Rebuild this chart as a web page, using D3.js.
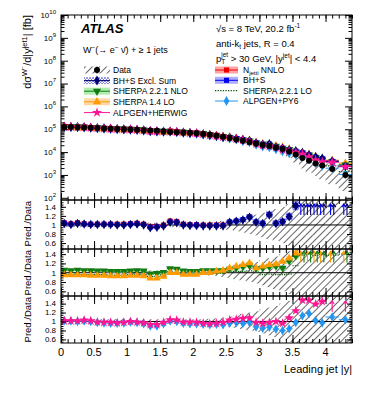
<!DOCTYPE html>
<html>
<head>
<meta charset="utf-8">
<script src="https://cdn.jsdelivr.net/npm/d3@7"></script>
<style>
body { margin: 0; background: #fff; }
text { font-family: "Liberation Sans", Arial, Helvetica, sans-serif; }
</style>
</head>
<body>
<div class="chart"></div>
<script>
// bin edges in leading jet |y|
const edges = [0, 0.1, 0.2, 0.3, 0.4, 0.5, 0.6, 0.7, 0.8, 0.9, 1.0, 1.1, 1.2, 1.3, 1.4, 1.5, 1.6, 1.7, 1.8, 1.9,
  2.0, 2.1, 2.2, 2.3, 2.4, 2.5, 2.6, 2.7, 2.8, 2.9, 3.0, 3.1, 3.2, 3.3, 3.4, 3.5, 3.6, 3.7, 3.8, 3.9, 4.0, 4.2, 4.4];

// measured cross section [fb] and its relative total uncertainty
const dataXs = [1.26e5, 1.25e5, 1.22e5, 1.20e5, 1.16e5, 1.13e5, 1.09e5, 1.06e5, 1.03e5, 1.00e5,
  9.7e4, 9.4e4, 9.06e4, 8.9e4, 8.6e4, 8.1e4, 7.6e4, 7.3e4, 7.26e4, 6.97e4,
  6.7e4, 6.25e4, 5.77e4, 5.22e4, 4.68e4, 4.14e4, 3.6e4, 3.13e4, 2.72e4, 2.39e4,
  2.07e4, 1.86e4, 1.6e4, 1.35e4, 1.05e4, 7.8e3, 5.5e3, 4.2e3, 3.2e3, 2.6e3, 1.8e3, 1.0e3];
const dataUnc = [0.05, 0.05, 0.05, 0.05, 0.05, 0.05, 0.05, 0.05, 0.05, 0.05,
  0.05, 0.05, 0.05, 0.05, 0.05, 0.05, 0.05, 0.05, 0.05, 0.05,
  0.05, 0.05, 0.06, 0.07, 0.09, 0.11, 0.14, 0.17, 0.2, 0.23,
  0.27, 0.31, 0.35, 0.4, 0.46, 0.55, 0.65, 0.7, 0.72, 0.75, 0.78, 0.8];

// prediction / data ratios
const nnloRatio = [1.05, 1.03, 1.05, 1.03, 1.02, 1.02, 1.02, 1.02, 1.02, 1.02,
  1.03, 1.04, 1.02, 0.97, 0.97, 1.0, 1.09, 1.08, 1.02, 1.01, 1.01, 1.0, 1.0, 1.0, 1.0];
const nnloUnc = [0.03, 0.03, 0.03, 0.03, 0.03, 0.03, 0.03, 0.03, 0.03, 0.03,
  0.03, 0.03, 0.03, 0.03, 0.03, 0.03, 0.03, 0.03, 0.03, 0.03, 0.03, 0.03, 0.03, 0.03, 0.03];
const bhsRatio = [1.04, 1.015, 1.04, 1.02, 1.015, 1.015, 1.015, 1.015, 1.01, 1.01,
  1.02, 1.03, 1.01, 0.95, 0.96, 0.985, 1.07, 1.06, 1.01, 1.0,
  1.0, 0.99, 0.99, 0.99, 0.99, 1.07, 1.09, 1.12, 1.18, 1.07,
  1.04, 1.23, 1.04, 1.08, 1.19, 1.43, 1.7, 1.8, 1.9, 2.0, 2.2, 2.4];
const bhsUnc = [0.03, 0.03, 0.03, 0.03, 0.03, 0.03, 0.03, 0.03, 0.03, 0.03,
  0.03, 0.03, 0.03, 0.03, 0.03, 0.03, 0.03, 0.03, 0.03, 0.03,
  0.03, 0.03, 0.03, 0.03, 0.03, 0.04, 0.04, 0.05, 0.05, 0.05,
  0.05, 0.06, 0.06, 0.06, 0.07, 0.07, 0.08, 0.08, 0.08, 0.09, 0.1, 0.1];
const bhsExclRatio = [1.03, 1.01, 1.03, 1.02, 1.01, 1.01, 1.01, 1.01, 1.0, 1.0,
  1.01, 1.02, 1.0, 0.94, 0.95, 0.98, 1.06, 1.05, 1.0, 0.99,
  0.99, 0.98, 0.98, 0.98, 0.98, 1.06, 1.08, 1.11, 1.17, 1.06,
  1.03, 1.22, 1.03, 1.07, 1.18, 1.42, 1.7, 1.8, 1.9, 2.0, 2.2, 2.4];
const nloRatio = [1.06, 1.05, 1.06, 1.05, 1.05, 1.04, 1.04, 1.03, 1.03, 1.03,
  1.04, 1.05, 1.04, 0.98, 0.99, 1.01, 1.09, 1.08, 1.04, 1.03,
  1.03, 1.05, 1.05, 1.05, 1.05, 1.08, 1.1, 1.13, 1.15, 1.09,
  1.1, 1.13, 1.14, 1.1, 1.25, 1.36, 1.7, 1.8, 1.85, 1.9, 2.2, 2.8];
const nloUnc = [0.03, 0.03, 0.03, 0.03, 0.03, 0.03, 0.03, 0.03, 0.03, 0.03,
  0.03, 0.03, 0.03, 0.03, 0.03, 0.03, 0.03, 0.03, 0.03, 0.03,
  0.03, 0.03, 0.03, 0.03, 0.03, 0.035, 0.035, 0.04, 0.04, 0.04,
  0.04, 0.045, 0.045, 0.05, 0.05, 0.05, 0.06, 0.06, 0.06, 0.06, 0.07, 0.07];
const lo14Ratio = [0.95, 0.95, 0.95, 0.95, 0.94, 0.94, 0.94, 0.93, 0.93, 0.93,
  0.94, 0.94, 0.93, 0.88, 0.88, 0.92, 1.0, 1.0, 0.96, 0.96,
  0.96, 1.0, 1.0, 1.03, 1.05, 1.1, 1.14, 1.17, 1.21, 1.1,
  1.14, 1.17, 1.19, 1.24, 1.31, 1.42, 1.76, 1.95, 2.0, 2.05, 2.45, 3.3];
const lo14Unc = [0.02, 0.02, 0.02, 0.02, 0.02, 0.02, 0.02, 0.02, 0.02, 0.02,
  0.02, 0.02, 0.02, 0.02, 0.02, 0.02, 0.02, 0.02, 0.02, 0.02,
  0.02, 0.02, 0.02, 0.02, 0.02, 0.025, 0.025, 0.03, 0.03, 0.03,
  0.03, 0.03, 0.035, 0.035, 0.04, 0.04, 0.05, 0.05, 0.05, 0.05, 0.06, 0.06];
const sherpaLoRatio = [0.97, 0.96, 0.97, 0.96, 0.96, 0.96, 0.96, 0.95, 0.95, 0.95,
  0.96, 0.97, 0.96, 0.92, 0.92, 0.95, 1.02, 1.01, 0.97, 0.97,
  0.97, 0.99, 0.99, 0.99, 0.99, 1.02, 1.03, 1.03, 1.04, 1.02,
  0.96, 0.97, 0.96, 0.96, 0.97, 1.15, 1.38, 1.4, 1.37, 1.39, 1.38, 1.4];
const alpHerRatio = [1.015, 1.015, 1.015, 1.03, 1.015, 0.99, 0.98, 0.98, 0.97, 0.98,
  1.0, 0.99, 0.97, 0.93, 0.93, 0.98, 1.04, 1.03, 0.985, 0.985,
  0.98, 0.96, 0.95, 0.96, 0.98, 1.03, 1.05, 1.07, 1.08, 0.98,
  0.96, 0.98, 1.0, 0.96, 1.08, 1.24, 1.48, 1.48, 1.39, 1.45, 2.0, 2.3];
const alpPyRatio = [1.02, 1.01, 1.0, 1.01, 1.0, 0.98, 0.97, 0.96, 0.96, 0.97,
  0.99, 0.98, 0.95, 0.9, 0.9, 0.95, 1.01, 1.0, 0.96, 0.95,
  0.95, 0.94, 0.93, 0.94, 0.93, 0.96, 0.98, 0.96, 0.98, 0.88,
  0.85, 0.87, 0.83, 0.8, 0.84, 0.98, 1.13, 1.18, 1.02, 0.97, 1.1, 1.04];

const xTickLabels = ['0', '0.5', '1', '1.5', '2', '2.5', '3', '3.5', '4'];
const ratioTickValues = [0.6, 0.8, 1, 1.2, 1.4];

const L = 61, R = 352;

const svg = d3.select('.chart').append('svg')
  .attr('width', 374)
  .attr('height', 396);
svg.append('rect').attr('width', 374).attr('height', 396).attr('fill', '#fff');

const defs = svg.append('defs');
const hatch = defs.append('pattern')
  .attr('id', 'hatch').attr('patternUnits', 'userSpaceOnUse')
  .attr('width', 5).attr('height', 5)
  .attr('patternTransform', 'rotate(45)');
hatch.append('line').attr('x1', 2.5).attr('x2', 2.5).attr('y1', 0).attr('y2', 5)
  .attr('stroke', '#555').attr('stroke-width', 0.9);
const xhatch = defs.append('pattern')
  .attr('id', 'xhatch').attr('patternUnits', 'userSpaceOnUse')
  .attr('width', 3).attr('height', 3);
xhatch.append('path').attr('d', 'M0,0L3,3M3,0L0,3')
  .attr('stroke', '#4040d0').attr('stroke-width', 0.7);

const x = d3.scaleLinear().domain([0, 4.4]).range([L, R]);
const yMain = d3.scaleLog().domain([1e2, 1e10]).range([197.8, 15]);

const panels = [
  {top: 200, bottom: 249, dom: [0.47, 1.55]},
  {top: 249, bottom: 296, dom: [0.5, 1.51]},
  {top: 296, bottom: 343, dom: [0.52, 1.57]}
];
panels.forEach(p => {
  p.y = d3.scaleLinear().domain(p.dom).range([p.bottom, p.top]);
});

const bins = dataXs.map((v, i) => ({i, lo: edges[i], hi: edges[i + 1], c: (edges[i] + edges[i + 1]) / 2, v}));

const series = {
  nnlo: {vals: nnloRatio, unc: nnloUnc, color: '#ee0000', band: '#ff8c8c', sym: d3.symbolSquare, size: 20},
  bhs: {vals: bhsRatio, unc: bhsUnc, color: '#0000ee', band: '#9a9aff', sym: d3.symbolSquare, size: 20},
  bhsExcl: {vals: bhsExclRatio, unc: null, color: '#00006e', band: 'url(#xhatch)', sym: d3.symbolDiamond, size: 22},
  nlo: {vals: nloRatio, unc: nloUnc, color: '#127a12', band: '#9be89b', sym: d3.symbolTriangle, size: 22, rot: 180},
  lo14: {vals: lo14Ratio, unc: lo14Unc, color: '#ff9a00', band: '#ffd08c', sym: d3.symbolTriangle, size: 22},
  alpHer: {vals: alpHerRatio, unc: null, color: '#ff1493', sym: d3.symbolStar, size: 24},
  alpPy: {vals: alpPyRatio, unc: null, color: '#2196f3', sym: d3.symbolDiamond, size: 22}
};

function clip(id, top, bottom) {
  defs.append('clipPath').attr('id', id)
    .append('rect').attr('x', L).attr('y', top).attr('width', R - L).attr('height', bottom - top);
  return svg.append('g').attr('clip-path', `url(#${id})`);
}

function marker(g, s, px, py, scale) {
  g.append('path')
    .attr('d', d3.symbol(s.sym, s.size * scale)())
    .attr('transform', `translate(${px},${py})` + (s.rot ? ` rotate(${s.rot})` : ''))
    .attr('fill', s.color);
}

function arrow(g, px, y0, y1, color) {
  g.append('line').attr('x1', px).attr('x2', px).attr('y1', y0).attr('y2', y1)
    .attr('stroke', color).attr('stroke-width', 1.1);
  g.append('path').attr('d', `M${px - 2},${y1 + 3}L${px},${y1}L${px + 2},${y1 + 3}`)
    .attr('fill', 'none').attr('stroke', color).attr('stroke-width', 1.1);
}

// ---------- main panel ----------
const gMain = clip('clipMain', 15, 200);

gMain.selectAll('.dband').data(bins).enter().append('rect')
  .attr('x', d => x(d.lo)).attr('width', d => x(d.hi) - x(d.lo))
  .attr('y', d => yMain(d.v * (1 + dataUnc[d.i])))
  .attr('height', d => yMain(d.v * (1 - dataUnc[d.i])) - yMain(d.v * (1 + dataUnc[d.i])))
  .attr('fill', 'url(#hatch)');

['lo14', 'nlo', 'bhsExcl', 'bhs', 'nnlo'].forEach(k => {
  const s = series[k];
  bins.filter(d => s.vals[d.i] != null).forEach(d => {
    const u = s.unc ? s.unc[d.i] : 0.04;
    const p = d.v * s.vals[d.i];
    gMain.append('rect')
      .attr('x', x(d.lo)).attr('width', x(d.hi) - x(d.lo))
      .attr('y', yMain(p * (1 + u))).attr('height', yMain(p * (1 - u)) - yMain(p * (1 + u)))
      .attr('fill', s.band).attr('opacity', 0.7);
  });
});

bins.forEach(d => {
  gMain.append('line')
    .attr('x1', x(d.lo)).attr('x2', x(d.hi))
    .attr('y1', yMain(d.v * sherpaLoRatio[d.i])).attr('y2', yMain(d.v * sherpaLoRatio[d.i]))
    .attr('stroke', '#0b5a0b').attr('stroke-width', 1.2).attr('stroke-dasharray', '1.2,1.2');
});

['alpPy', 'lo14', 'nlo', 'bhs', 'bhsExcl', 'nnlo', 'alpHer'].forEach(k => {
  const s = series[k];
  bins.filter(d => s.vals[d.i] != null).forEach(d => {
    const py = yMain(d.v * s.vals[d.i]);
    gMain.append('line').attr('x1', x(d.lo)).attr('x2', x(d.hi)).attr('y1', py).attr('y2', py)
      .attr('stroke', s.color).attr('stroke-width', 1);
    marker(gMain, s, x(d.c), py, 1.3);
  });
});

bins.forEach(d => {
  gMain.append('circle').attr('cx', x(d.c)).attr('cy', yMain(d.v)).attr('r', 3).attr('fill', '#000');
});

// ---------- ratio panels ----------
const ratioContent = [
  {keys: ['nnlo', 'bhs', 'bhsExcl'], arrows: ['bhs', 'bhsExcl']},
  {keys: ['nlo', 'lo14'], arrows: ['lo14', 'nlo'], dotted: true},
  {keys: ['alpPy', 'alpHer'], arrows: ['alpHer']}
];

panels.forEach((p, pi) => {
  const g = clip('clipR' + pi, p.top, p.bottom);
  const y = p.y;
  g.selectAll('.rband').data(bins).enter().append('rect')
    .attr('x', d => x(d.lo)).attr('width', d => x(d.hi) - x(d.lo))
    .attr('y', d => y(1 + dataUnc[d.i]))
    .attr('height', d => y(1 - dataUnc[d.i]) - y(1 + dataUnc[d.i]))
    .attr('fill', 'url(#hatch)');
  g.append('line').attr('x1', L).attr('x2', R).attr('y1', y(1)).attr('y2', y(1))
    .attr('stroke', '#000').attr('stroke-width', 1);

  const rc = ratioContent[pi];
  rc.keys.forEach(k => {
    const s = series[k];
    bins.filter(d => s.vals[d.i] != null).forEach(d => {
      const u = s.unc ? s.unc[d.i] : (k === 'bhsExcl' ? bhsUnc[d.i] : 0);
      if (u > 0) {
        g.append('rect')
          .attr('x', x(d.lo)).attr('width', x(d.hi) - x(d.lo))
          .attr('y', y(s.vals[d.i] * (1 + u)))
          .attr('height', y(s.vals[d.i] * (1 - u)) - y(s.vals[d.i] * (1 + u)))
          .attr('fill', s.band).attr('opacity', 0.7);
      }
    });
  });
  if (rc.dotted) {
    bins.forEach(d => {
      g.append('line').attr('x1', x(d.lo)).attr('x2', x(d.hi))
        .attr('y1', y(sherpaLoRatio[d.i])).attr('y2', y(sherpaLoRatio[d.i]))
        .attr('stroke', '#0b5a0b').attr('stroke-width', 1.2).attr('stroke-dasharray', '1.2,1.2');
    });
  }
  rc.keys.forEach(k => {
    const s = series[k];
    bins.filter(d => s.vals[d.i] != null && s.vals[d.i] < p.dom[1]).forEach(d => {
      const py = y(s.vals[d.i]);
      g.append('line').attr('x1', x(d.lo)).attr('x2', x(d.hi)).attr('y1', py).attr('y2', py)
        .attr('stroke', s.color).attr('stroke-width', 1);
      marker(g, s, x(d.c), py, 1.2);
    });
  });
  rc.arrows.forEach((k, ai) => {
    const s = series[k];
    const off = rc.arrows.length > 1 ? (ai === 0 ? -1.6 : 1.6) : 0;
    bins.filter(d => s.vals[d.i] >= p.dom[1]).forEach(d => {
      arrow(svg, x(d.c) + off, y(1.22), y(1.46), s.color);
    });
  });
});

// ---------- frames and axes ----------
const frames = [{top: 15, bottom: 200}].concat(panels);
frames.forEach(f => {
  svg.append('rect').attr('x', L).attr('y', f.top).attr('width', R - L).attr('height', f.bottom - f.top)
    .attr('fill', 'none').attr('stroke', '#000').attr('stroke-width', 1);
});

const xMinor = d3.range(0, 4.41, 0.1);
const xMajor = d3.range(0, 4.41, 0.5);

function tidy(g) {
  g.select('.domain').remove();
  g.selectAll('line').attr('stroke', '#000');
}

frames.forEach((f, fi) => {
  const minLen = fi === 0 ? 3.5 : 4, majLen = fi === 0 ? 7 : 8;
  [[xMinor, minLen], [xMajor, majLen]].forEach(([vals, len]) => {
    svg.append('g').attr('transform', `translate(0,${f.top})`)
      .call(d3.axisTop(x).tickValues(vals).tickSize(-len).tickFormat('')).call(tidy);
    svg.append('g').attr('transform', `translate(0,${f.bottom})`)
      .call(d3.axisBottom(x).tickValues(vals).tickSize(-len).tickFormat('')).call(tidy);
  });
});

// x labels under the last panel
svg.append('g').selectAll('text').data(xMajor.slice(0, 9)).enter().append('text')
  .attr('x', d => x(d)).attr('y', 356).attr('text-anchor', 'middle')
  .attr('font-size', 11).text((d, i) => xTickLabels[i]);

svg.append('text').attr('x', R).attr('y', 373).attr('text-anchor', 'end')
  .attr('font-size', 11).text('Leading jet |y|');

// main y axis
const decades = [1e2, 1e3, 1e4, 1e5, 1e6, 1e7, 1e8, 1e9, 1e10];
const yMinor = yMain.ticks().filter(v => !decades.includes(v));
[[decades, 7], [yMinor, 3.5]].forEach(([vals, len]) => {
  svg.append('g').attr('transform', `translate(${L},0)`)
    .call(d3.axisLeft(yMain).tickValues(vals).tickSize(-len).tickFormat('')).call(tidy);
  svg.append('g').attr('transform', `translate(${R},0)`)
    .call(d3.axisRight(yMain).tickValues(vals).tickSize(-len).tickFormat('')).call(tidy);
});
decades.forEach(d => {
  const t = svg.append('text').attr('x', L - 5).attr('y', yMain(d) + 2.8)
    .attr('text-anchor', 'end').attr('font-size', 8);
  t.append('tspan').text('10');
  t.append('tspan').attr('dy', -4).attr('font-size', 6).text(Math.round(Math.log10(d)));
});

// ratio y axes
panels.forEach(p => {
  const minors = d3.range(0.5, 1.56, 0.05).filter(v => v > p.dom[0] && v < p.dom[1]);
  [[ratioTickValues, 5], [minors, 2.5]].forEach(([vals, len]) => {
    svg.append('g').attr('transform', `translate(${L},0)`)
      .call(d3.axisLeft(p.y).tickValues(vals).tickSize(-len).tickFormat('')).call(tidy);
    svg.append('g').attr('transform', `translate(${R},0)`)
      .call(d3.axisRight(p.y).tickValues(vals).tickSize(-len).tickFormat('')).call(tidy);
  });
  svg.append('g').selectAll('text').data(ratioTickValues).enter().append('text')
    .attr('x', L - 5).attr('y', d => p.y(d) + 2.8).attr('text-anchor', 'end')
    .attr('font-size', 8).text(d => d);
  svg.append('text').attr('transform', `translate(31,${p.top + 1}) rotate(-90)`)
    .attr('text-anchor', 'end').attr('font-size', 9.5).text('Pred./Data');
});

// main y title
const yt = svg.append('text').attr('transform', 'translate(31,15) rotate(-90)')
  .attr('text-anchor', 'end').attr('font-size', 11);
yt.append('tspan').text('dσ');
yt.append('tspan').attr('dy', -4.5).attr('font-size', 7.5).text('W⁻');
yt.append('tspan').attr('dy', 4.5).text('/d|y');
yt.append('tspan').attr('dy', -4.5).attr('font-size', 7.5).text('jet1');
yt.append('tspan').attr('dy', 4.5).text('| [fb]');

// ---------- labels ----------
svg.append('text').attr('x', 81).attr('y', 33).attr('font-size', 13)
  .attr('font-weight', 'bold').attr('font-style', 'italic').text('ATLAS');

const wl = svg.append('text').attr('x', 83).attr('y', 53).attr('font-size', 9);
wl.append('tspan').text('W');
wl.append('tspan').attr('dy', -3.5).attr('font-size', 6.5).text('−');
wl.append('tspan').attr('dy', 3.5).text('(→ e');
wl.append('tspan').attr('dy', -3.5).attr('font-size', 6.5).text('−');
wl.append('tspan').attr('dy', 3.5).text(' ν̄) + ≥ 1 jets');

const t1 = svg.append('text').attr('x', 216).attr('y', 31.5).attr('font-size', 9.5);
t1.append('tspan').text('√s = 8 TeV, 20.2 fb');
t1.append('tspan').attr('dy', -4).attr('font-size', 6.5).text('-1');

const t2 = svg.append('text').attr('x', 216).attr('y', 46.5).attr('font-size', 9.5);
t2.append('tspan').text('anti-k');
t2.append('tspan').attr('dy', 2.5).attr('font-size', 6.5).text('t');
t2.append('tspan').attr('dy', -2.5).text(' jets, R = 0.4');

const t3 = svg.append('text').attr('x', 216).attr('y', 61.5).attr('font-size', 9.5);
t3.append('tspan').text('p');
t3.append('tspan').attr('dy', 2.5).attr('font-size', 6.5).text('T');
t3.append('tspan').attr('dx', -4).attr('dy', -7).attr('font-size', 6.5).text('jet');
t3.append('tspan').attr('dy', 4.5).text(' > 30 GeV, |y');
t3.append('tspan').attr('dy', -4).attr('font-size', 6.5).text('jet');
t3.append('tspan').attr('dy', 4).text('| < 4.4');

// ---------- legend ----------
const legLeft = [
  {label: 'Data', type: 'data', y: 70},
  {label: 'BH+S Excl. Sum', key: 'bhsExcl', y: 80.6},
  {label: 'SHERPA 2.2.1 NLO', key: 'nlo', y: 91.2},
  {label: 'SHERPA 1.4 LO', key: 'lo14', y: 101.8},
  {label: 'ALPGEN+HERWIG', key: 'alpHer', y: 112.6, noBox: true}
];
const legRight = [
  {label: 'N', sub: 'jetti', tail: ' NNLO', key: 'nnlo', y: 70},
  {label: 'BH+S', key: 'bhs', y: 80.3},
  {label: 'SHERPA 2.2.1 LO', type: 'dotted', y: 90.6},
  {label: 'ALPGEN+PY6', key: 'alpPy', y: 101, noBox: true}
];

function legendEntry(e, x0, x1, tx) {
  const cx = (x0 + x1) / 2;
  if (e.type === 'data') {
    svg.append('rect').attr('x', x0).attr('y', e.y - 3.5).attr('width', x1 - x0).attr('height', 7)
      .attr('fill', 'url(#hatch)');
    svg.append('line').attr('x1', cx).attr('x2', cx).attr('y1', e.y - 3.5).attr('y2', e.y + 3.5)
      .attr('stroke', '#000');
    svg.append('circle').attr('cx', cx).attr('cy', e.y).attr('r', 3).attr('fill', '#000');
  } else if (e.type === 'dotted') {
    svg.append('line').attr('x1', x0).attr('x2', x1).attr('y1', e.y).attr('y2', e.y)
      .attr('stroke', '#0b5a0b').attr('stroke-width', 1.3).attr('stroke-dasharray', '1.3,1.3');
  } else {
    const s = series[e.key];
    if (!e.noBox) {
      svg.append('rect').attr('x', x0).attr('y', e.y - 3.5).attr('width', x1 - x0).attr('height', 7)
        .attr('fill', s.band).attr('opacity', 0.8);
    }
    svg.append('line').attr('x1', x0).attr('x2', x1).attr('y1', e.y).attr('y2', e.y)
      .attr('stroke', s.color).attr('stroke-width', 1);
    marker(svg, s, cx, e.y, 1.3);
  }
  const t = svg.append('text').attr('x', tx).attr('y', e.y + 3).attr('font-size', 8.5);
  t.append('tspan').text(e.label);
  if (e.sub) {
    t.append('tspan').attr('dy', 2).attr('font-size', 6).text(e.sub);
    t.append('tspan').attr('dy', -2).text(e.tail);
  }
}
legLeft.forEach(e => legendEntry(e, 84, 110, 113));
legRight.forEach(e => legendEntry(e, 215, 238, 243));
</script>
</body>
</html>
